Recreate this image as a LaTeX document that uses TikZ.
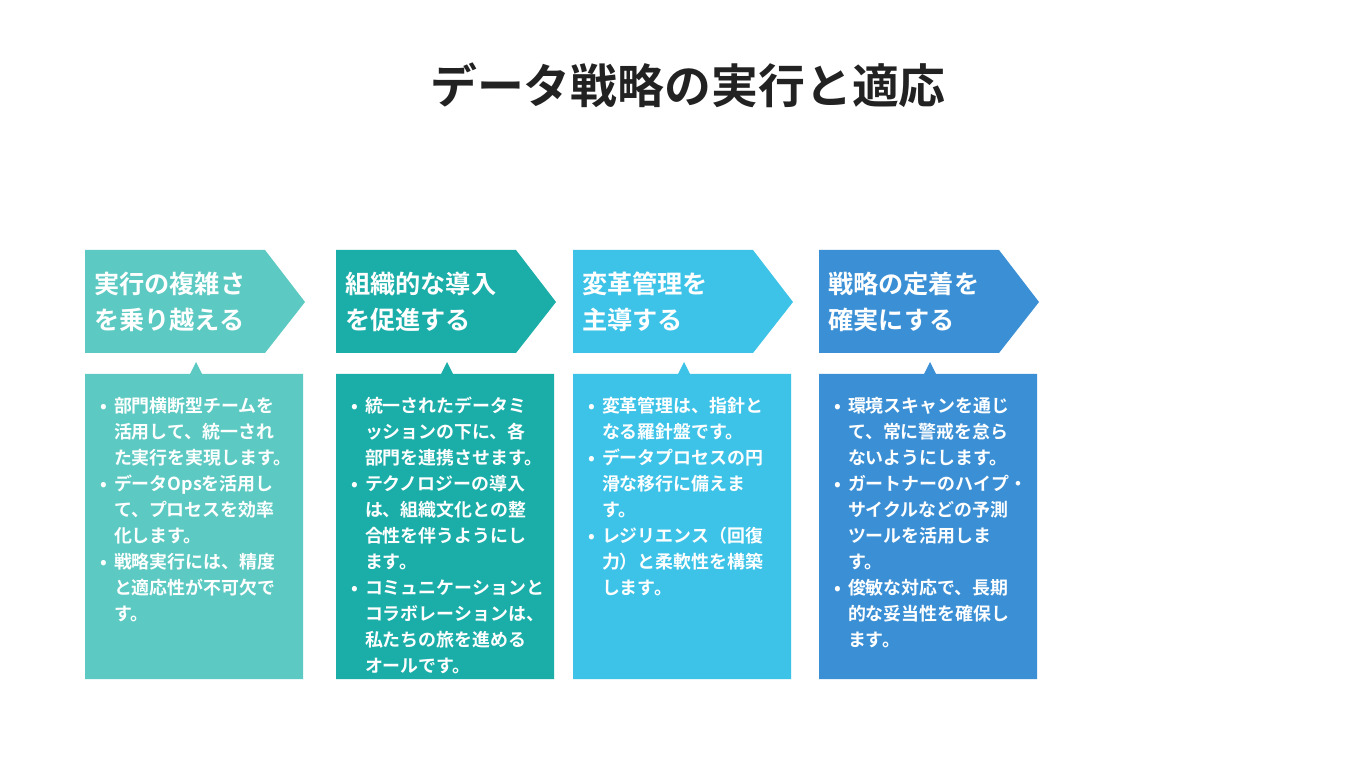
\documentclass[tikz,border=0pt]{standalone}
\usepackage{fontspec}
\setmainfont{Noto Sans CJK JP}[BoldFont={Noto Sans CJK JP Bold}]
\usetikzlibrary{positioning}
\definecolor{colA}{HTML}{5CCAC2}
\definecolor{colB}{HTML}{1BAEA8}
\definecolor{colC}{HTML}{3EC3E8}
\definecolor{colD}{HTML}{3A8FD5}
\definecolor{titlec}{HTML}{222222}
\newcommand{\hdr}[3]{%
  \fill[#3] (#1,250) -- (#1+180,250) -- (#1+220,302) -- (#1+180,353) -- (#1,353) -- cycle;
  \fill[#3] (#1+218,374) -- (#1,374) -- (#1,679) -- (#1+218,679) -- (#1+218,374) -- (#1+117,374) -- (#1+111,362) -- (#1+105,374) -- cycle;
  \node[head] (h#2) at (#1+9,302) {};}
\begin{document}
\begin{tikzpicture}[x=0.03cm,y=-0.03cm,
  head/.style={inner sep=0pt},
  htext/.style={anchor=west,text=white,font=\bfseries\fontsize{21.5}{31}\selectfont,align=left,inner sep=0pt},
  btext/.style={anchor=north west,text=white,font=\bfseries\fontsize{15.3}{22.2}\selectfont,inner sep=0pt},
  title/.style={font=\bfseries\fontsize{40}{48}\selectfont,text=titlec}]
  \useasboundingbox (0,0) rectangle (1365,768);
  \fill[white] (0,0) rectangle (1365,768);
  \node[title] (t) at (688,85) {データ戦略の実行と適応};

  % Columns
  \hdr{85}{a}{colA}
  \hdr{336}{b}{colB}
  \hdr{573}{c}{colC}
  \hdr{819}{d}{colD}

  \node[htext] at (ha) {実行の複雑さ\\を乗り越える};
  \node[htext] at (hb) {組織的な導入\\を促進する};
  \node[htext] at (hc) {変革管理を\\主導する};
  \node[htext] at (hd) {戦略の定着を\\確実にする};

  % Bullets
  \node[btext] (ba) at (100,394) {\begin{tabular}{@{}l@{\hspace{6pt}}l@{}}
    •&部門横断型チームを\\&活用して、統一され\\&た実行を実現します。\\
    •&データOpsを活用し\\&て、プロセスを効率\\&化します。\\
    •&戦略実行には、精度\\&と適応性が不可欠で\\&す。\end{tabular}};
  \node[btext] (bb) at (351,394) {\begin{tabular}{@{}l@{\hspace{6pt}}l@{}}
    •&統一されたデータミ\\&ッションの下に、各\\&部門を連携させます。\\
    •&テクノロジーの導入\\&は、組織文化との整\\&合性を伴うようにし\\&ます。\\
    •&コミュニケーションと\\&コラボレーションは、\\&私たちの旅を進める\\&オールです。\end{tabular}};
  \node[btext] (bc) at (588,394) {\begin{tabular}{@{}l@{\hspace{6pt}}l@{}}
    •&変革管理は、指針と\\&なる羅針盤です。\\
    •&データプロセスの円\\&滑な移行に備えま\\&す。\\
    •&レジリエンス（回復\\&力）と柔軟性を構築\\&します。\end{tabular}};
  \node[btext] (bd) at (834,394) {\begin{tabular}{@{}l@{\hspace{6pt}}l@{}}
    •&環境スキャンを通じ\\&て、常に警戒を怠ら\\&ないようにします。\\
    •&ガートナーのハイプ・\\&サイクルなどの予測\\&ツールを活用しま\\&す。\\
    •&俊敏な対応で、長期\\&的な妥当性を確保し\\&ます。\end{tabular}};
\end{tikzpicture}
\end{document}
